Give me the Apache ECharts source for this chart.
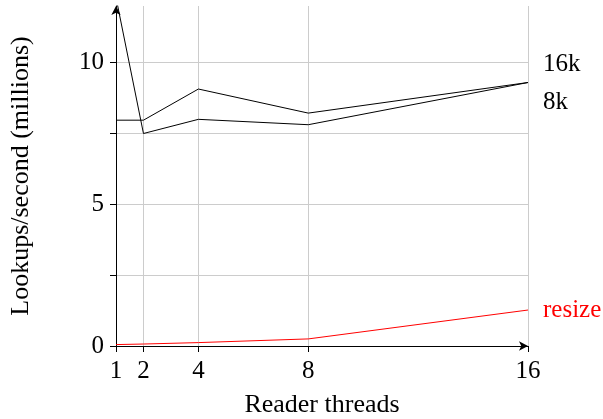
<!DOCTYPE html>
<html>
<head>
<meta charset="utf-8">
<script src="https://cdn.jsdelivr.net/npm/echarts@6/dist/echarts.min.js"></script>
<style>
  html, body { margin: 0; padding: 0; background: #fff; }
  #chart { width: 603px; height: 419px; }
</style>
</head>
<body>
<div id="chart"></div>
<script>
const threads = [1, 2, 4, 8, 16]
const lookups16k = [7.97, 7.97, 9.07, 8.22, 9.3]
const lookups8k = [12.3, 7.5, 8.0, 7.81, 9.3]
const lookupsResize = [0.05, 0.07, 0.12, 0.25, 1.27]

const xTicks = [1, 2, 4, 8, 16]
const yTicks = [0, 2.5, 5, 7.5, 10]
const yLabels = [0, 5, 10]

const font = 'Liberation Serif'
const chart = echarts.init(document.getElementById('chart'))

const pairs = (ys) => threads.map((x, i) => [x, ys[i]])

const makeSeries = (name, ys, color, dy) => ({
  name: name,
  type: 'line',
  data: pairs(ys),
  symbol: 'none',
  clip: true,
  lineStyle: { color: color, width: 1 },
  endLabel: {
    show: true,
    formatter: name,
    color: color,
    fontFamily: font,
    fontSize: 25,
    offset: [7, dy],
  },
  animation: false,
})

chart.setOption({
  animation: false,
  grid: { left: 116, right: 75, top: 6, bottom: 73, outerBoundsMode: 'none', containLabel: false },
  xAxis: {
    type: 'value',
    min: 1,
    max: 16,
    name: 'Reader threads',
    nameLocation: 'middle',
    nameGap: 46,
    nameTextStyle: { fontFamily: font, fontSize: 26, color: '#000' },
    axisLine: { show: true, onZero: false, symbol: ['none', 'arrow'], symbolSize: [7, 9], lineStyle: { color: '#000', width: 1 } },
    axisTick: { show: true, length: 6, customValues: xTicks, lineStyle: { color: '#000' } },
    axisLabel: { customValues: xTicks, margin: 13, fontFamily: font, fontSize: 25, color: '#000' },
    splitLine: { show: true, lineStyle: { color: '#cccccc', width: 1 } },
  },
  yAxis: {
    type: 'value',
    min: 0,
    max: 12,
    name: 'Lookups/second (millions)',
    nameLocation: 'middle',
    nameGap: 82,
    nameTextStyle: { fontFamily: font, fontSize: 26, color: '#000' },
    axisLine: { show: true, symbol: ['none', 'arrow'], symbolSize: [7, 9], lineStyle: { color: '#000', width: 1 } },
    axisTick: { show: true, length: 6, customValues: yTicks, lineStyle: { color: '#000' } },
    axisLabel: { customValues: yLabels, margin: 12, fontFamily: font, fontSize: 25, color: '#000' },
    splitLine: { show: true, lineStyle: { color: '#cccccc', width: 1 } },
  },
  series: [
    makeSeries('16k', lookups16k, '#000', -18),
    makeSeries('8k', lookups8k, '#000', 20),
    makeSeries('resize', lookupsResize, '#ff0000', 0),
  ],
})
</script>
</body>
</html>
